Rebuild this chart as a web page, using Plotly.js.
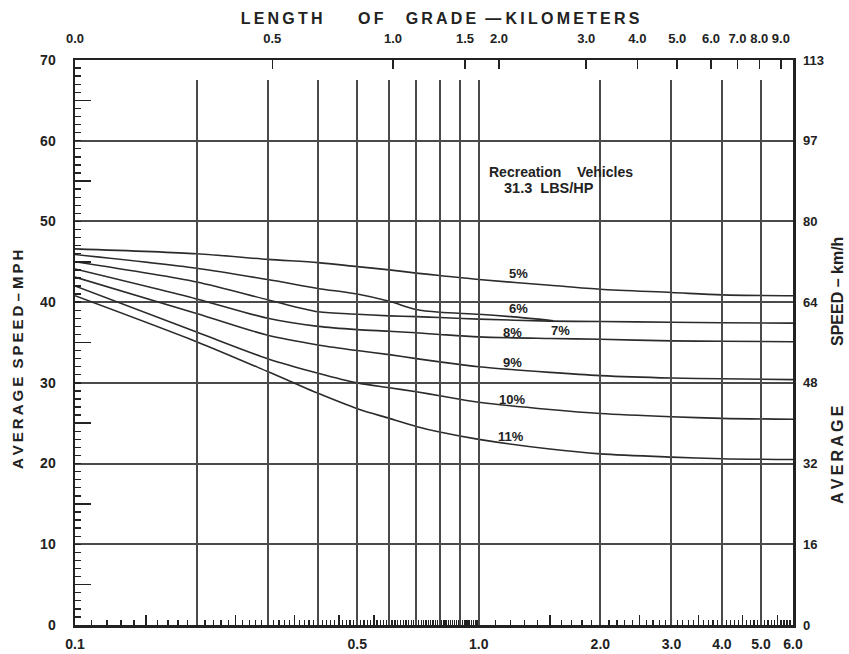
<!DOCTYPE html>
<html>
<head>
<meta charset="utf-8">
<script src="https://cdn.plot.ly/plotly-3.0.1.min.js"></script>
<style>
  html, body { margin: 0; padding: 0; background: #fff; }
  #chart { width: 849px; height: 654px; }
</style>
</head>
<body>
<div id="chart"></div>
<script>
// Length of grade in miles (bottom scale) at which each curve was read
const lengthMi = [0.1, 0.2, 0.3, 0.4, 0.5, 0.6, 0.7, 0.8, 1.0, 1.5, 2.0, 3.0, 4.0, 6.0];

// Average speed (mph) of recreation vehicles on each grade
const speed5  = [46.6, 46.0, 45.3, 44.9, 44.4, 44.0, 43.6, 43.3, 42.8, 42.1, 41.6, 41.2, 40.9, 40.8];
const speed7  = [45.0, 42.5, 40.3, 38.8, 38.5, 38.3, 38.2, 38.1, 37.9, 37.65, 37.6, 37.5, 37.45, 37.4];
const speed8  = [44.1, 40.4, 38.0, 37.0, 36.6, 36.4, 36.2, 36.0, 35.7, 35.5, 35.4, 35.2, 35.15, 35.1];
const speed9  = [43.1, 38.6, 35.9, 34.7, 34.0, 33.5, 33.0, 32.6, 32.0, 31.3, 30.9, 30.6, 30.5, 30.4];
const speed10 = [42.0, 36.3, 33.0, 31.2, 30.0, 29.4, 28.9, 28.4, 27.6, 26.7, 26.2, 25.8, 25.6, 25.5];
const speed11 = [40.8, 35.1, 31.4, 28.7, 26.8, 25.6, 24.6, 23.9, 23.0, 21.8, 21.2, 20.8, 20.6, 20.5];

// The 6% curve runs only until it joins the 7% curve
const lengthMi6 = [0.1, 0.2, 0.3, 0.4, 0.5, 0.6, 0.7, 0.8, 1.0, 1.2, 1.53];
const speed6    = [45.9, 44.2, 42.8, 41.7, 41.0, 40.1, 39.1, 38.75, 38.5, 38.2, 37.7];

const gradeNames = ['5%', '6%', '7%', '8%', '9%', '10%', '11%'];

// Bottom scale (miles)
const bottomTickVals = [0.1, 0.5, 1, 2, 3, 4, 5, 6];
const bottomTickText = ['0.1', '0.5', '1.0', '2.0', '3.0', '4.0', '5.0', '6.0'];
const gridMi = [0.2, 0.3, 0.4, 0.5, 0.6, 0.7, 0.8, 0.9, 1, 2, 3, 4, 5];

// Top scale (kilometres), placed along the mile axis
const topTickMi   = [0.1, 0.308, 0.613, 0.924, 1.122, 1.845, 2.47, 3.1, 3.76, 4.37, 4.95, 5.6];
const topTickText = ['0.0', '0.5', '1.0', '1.5', '2.0', '3.0', '4.0', '5.0', '6.0', '7.0', '8.0', '9.0'];

// Speed scales
const mphTicks = [0, 10, 20, 30, 40, 50, 60, 70];
const mphText  = ['0', '10', '20', '30', '40', '50', '60', '70'];
const kmhText  = ['0', '16', '32', '48', '64', '80', '97', '113'];

// Small and long tick marks along the length and speed scales
const minorMi = [];
for (let i = 11; i < 100; i++) { if (i % 10 !== 0) minorMi.push(i / 100); }
for (let i = 11; i < 60; i++) { if (i % 10 !== 0) minorMi.push(i / 10); }
const longMi = [0.15, 0.25, 0.35, 0.45, 0.55, 1.5, 2.5, 3.5, 4.5, 5.5];
const longMph = [5, 15, 25, 35, 45, 55, 65];

const FONT = '"Liberation Sans", Arial, Helvetica, sans-serif';
const INK = '#222';
const LINE = '#2b2b2b';
const GRID = '#4a4a4a';
const xRange = [Math.log10(0.1), Math.log10(6)];
const lx = v => Math.log10(v);
const th = '\u2009';
const sp = n => '\u00a0'.repeat(n);
const spaced = s => s.split('').join(th);

const curveLine = { color: LINE, width: 1.6, shape: 'spline', smoothing: 0.8 };
const curve = (x, y, name) => ({
  type: 'scatter', mode: 'lines', x: x, y: y, name: name,
  line: curveLine, hoverinfo: 'x+y+name', xaxis: 'x', yaxis: 'y'
});

const traces = [
  curve(lengthMi, speed5, gradeNames[0]),
  curve(lengthMi6, speed6, gradeNames[1]),
  curve(lengthMi, speed7, gradeNames[2]),
  curve(lengthMi, speed8, gradeNames[3]),
  curve(lengthMi, speed9, gradeNames[4]),
  curve(lengthMi, speed10, gradeNames[5]),
  curve(lengthMi, speed11, gradeNames[6]),
  // empty traces that bring the helper axes into being
  { type: 'scatter', x: [], y: [], xaxis: 'x2', yaxis: 'y', hoverinfo: 'skip' },
  { type: 'scatter', x: [], y: [], xaxis: 'x3', yaxis: 'y', hoverinfo: 'skip' },
  { type: 'scatter', x: [], y: [], xaxis: 'x4', yaxis: 'y4', hoverinfo: 'skip' },
  { type: 'scatter', x: [], y: [], xaxis: 'x', yaxis: 'y2', hoverinfo: 'skip' },
  { type: 'scatter', x: [], y: [], xaxis: 'x', yaxis: 'y3', hoverinfo: 'skip' }
];

const gradeLabel = (text, xMi, yMph) => ({
  text: text, x: lx(xMi), y: yMph, xref: 'x', yref: 'y',
  showarrow: false, xanchor: 'center', yanchor: 'middle',
  font: { family: FONT, size: 13, color: INK, weight: 700 }
});

const annotations = [
  gradeLabel(gradeNames[0], 1.254, 43.5),
  gradeLabel(gradeNames[1], 1.252, 39.2),
  gradeLabel(gradeNames[2], 1.598, 36.5),
  gradeLabel(gradeNames[3], 1.215, 36.3),
  gradeLabel(gradeNames[4], 1.21, 32.5),
  gradeLabel(gradeNames[5], 1.208, 28.0),
  gradeLabel(gradeNames[6], 1.205, 23.4),
  {
    text: 'Recreation' + sp(4) + 'Vehicles', x: lx(1.048), y: 56.1, xref: 'x', yref: 'y',
    showarrow: false, xanchor: 'left', yanchor: 'middle',
    font: { family: FONT, size: 14, color: INK, weight: 700 }
  },
  {
    text: '31.3' + sp(2) + 'LBS/HP', x: lx(1.141), y: 54.2, xref: 'x', yref: 'y',
    showarrow: false, xanchor: 'left', yanchor: 'middle',
    font: { family: FONT, size: 14.5, color: INK, weight: 700 }
  },
  {
    text: spaced('AVERAGE') + sp(2) + spaced('SPEED') + sp(1) + '\u2013' + sp(1) + spaced('MPH'),
    x: (18 - 75) / 718, y: (625 - 360) / 565, xref: 'paper', yref: 'paper',
    textangle: -90, showarrow: false, xanchor: 'center', yanchor: 'middle',
    font: { family: FONT, size: 15, color: INK, weight: 700 }
  },
  {
    text: spaced('AVERAGE'),
    x: (837 - 75) / 718, y: (625 - 455) / 565, xref: 'paper', yref: 'paper',
    textangle: -90, showarrow: false, xanchor: 'center', yanchor: 'middle',
    font: { family: FONT, size: 16, color: INK, weight: 700 }
  },
  {
    text: 'SPEED ' + '\u2013' + ' km/h',
    x: (837 - 75) / 718, y: (625 - 292) / 565, xref: 'paper', yref: 'paper',
    textangle: -90, showarrow: false, xanchor: 'center', yanchor: 'middle',
    font: { family: FONT, size: 16, color: INK, weight: 700 }
  }
];

const tickFont = { family: FONT, size: 14, color: INK, weight: 700 };

const layout = {
  width: 849, height: 654,
  margin: { l: 75, r: 56, t: 60, b: 29, pad: 0 },
  paper_bgcolor: '#fff', plot_bgcolor: 'rgba(0,0,0,0)',
  showlegend: false,
  font: { family: FONT, color: INK, size: 12, weight: 700 },
  title: {
    text: spaced('LENGTH') + sp(8) + spaced('OF') + sp(5) + spaced('GRADE') + sp(2) + '\u2014' + sp(1) + spaced('KILOMETERS'),
    x: 440 / 849, xanchor: 'center', xref: 'container',
    y: 1 - 18 / 654, yanchor: 'middle', yref: 'container',
    font: { family: FONT, size: 16, color: INK, weight: 700 }
  },
  xaxis: {
    type: 'log', range: xRange, domain: [0, 1], anchor: 'y',
    tickmode: 'array', tickvals: bottomTickVals, ticktext: bottomTickText,
    ticks: 'inside', ticklen: 8, tickwidth: 1.5, tickcolor: INK,
    tickfont: tickFont, ticklabelstandoff: 5,
    showgrid: false, zeroline: false,
    showline: true, linewidth: 2.5, linecolor: INK,
    minor: { tickmode: 'array', tickvals: minorMi, ticks: 'inside', ticklen: 5, tickwidth: 1.3, tickcolor: INK, showgrid: false }
  },
  xaxis2: {
    type: 'log', range: xRange, overlaying: 'x', side: 'top', anchor: 'y',
    tickmode: 'array', tickvals: topTickMi, ticktext: topTickText,
    ticks: 'inside', ticklen: 9, tickwidth: 1.5, tickcolor: INK,
    tickfont: { family: FONT, size: 13, color: INK, weight: 700 }, ticklabelstandoff: 10,
    showgrid: false, zeroline: false,
    showline: true, linewidth: 2, linecolor: INK
  },
  xaxis3: {
    type: 'log', range: xRange, overlaying: 'x', side: 'bottom', anchor: 'y',
    tickmode: 'array', tickvals: longMi,
    ticks: 'inside', ticklen: 10, tickwidth: 1.5, tickcolor: INK,
    showticklabels: false, showgrid: false, zeroline: false, showline: false
  },
  xaxis4: {
    type: 'log', range: xRange, domain: [0, 1], anchor: 'y4',
    tickmode: 'array', tickvals: gridMi,
    ticks: '', showticklabels: false,
    showgrid: true, gridcolor: GRID, gridwidth: 2,
    zeroline: false, showline: false
  },
  yaxis: {
    range: [0, 70], domain: [0, 1], anchor: 'x',
    tickmode: 'array', tickvals: mphTicks, ticktext: mphText,
    ticks: 'inside', ticklen: 6, tickwidth: 1.5, tickcolor: INK,
    tickfont: tickFont, ticklabelstandoff: 14,
    showgrid: true, gridcolor: GRID, gridwidth: 2,
    zeroline: false, showline: true, linewidth: 2.5, linecolor: INK,
    minor: { dtick: 1, ticks: 'inside', ticklen: 6, tickwidth: 1.3, tickcolor: INK, showgrid: false }
  },
  yaxis2: {
    range: [0, 70], overlaying: 'y', side: 'right', anchor: 'x',
    tickmode: 'array', tickvals: mphTicks, ticktext: kmhText,
    ticks: '', tickfont: { family: FONT, size: 13, color: INK, weight: 700 }, ticklabelstandoff: 5,
    showgrid: false, zeroline: false,
    showline: true, linewidth: 2.5, linecolor: INK
  },
  yaxis3: {
    range: [0, 70], overlaying: 'y', side: 'left', anchor: 'x',
    tickmode: 'array', tickvals: longMph,
    ticks: 'inside', ticklen: 16, tickwidth: 1.5, tickcolor: INK,
    showticklabels: false, showgrid: false, zeroline: false, showline: false
  },
  yaxis4: {
    range: [0, 1], domain: [0, 545 / 565], anchor: 'x4', visible: false
  },
  annotations: annotations
};

Plotly.newPlot('chart', traces, layout, { displayModeBar: false, staticPlot: true });
</script>
</body>
</html>
